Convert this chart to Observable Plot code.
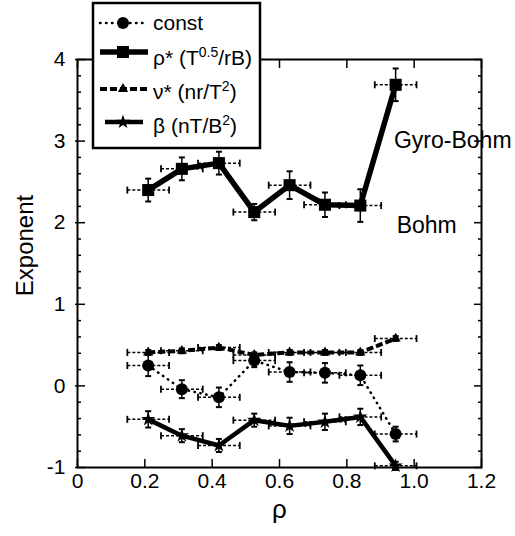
<!DOCTYPE html>
<html><head><meta charset="utf-8">
<script src="https://cdn.jsdelivr.net/npm/d3@7"></script>
<script src="https://cdn.jsdelivr.net/npm/@observablehq/plot@0.6"></script>
<style>
html,body{margin:0;padding:0;background:#fff;}
#wrap{position:relative;width:515px;height:536px;overflow:hidden;font-family:"Liberation Sans",Arial,Helvetica,sans-serif;}
#legend{position:absolute;left:0;top:0;pointer-events:none;}
</style></head><body><div id="wrap"></div>
<script>
// ---- data ----
const rho      = [0.21, 0.31, 0.42, 0.525, 0.63, 0.735, 0.84, 0.945];
const rhoErr   = [0.062, 0.062, 0.062, 0.062, 0.062, 0.062, 0.062, 0.062];
const constVal = [0.25, -0.04, -0.14, 0.31, 0.17, 0.16, 0.13, -0.59];
const constErr = [0.13, 0.11, 0.12, 0.08, 0.12, 0.12, 0.12, 0.09];
const rhoStarVal = [2.40, 2.66, 2.73, 2.13, 2.46, 2.22, 2.21, 3.69];
const rhoStarErr = [0.14, 0.14, 0.14, 0.10, 0.17, 0.15, 0.20, 0.20];
const nuVal    = [0.41, 0.43, 0.47, 0.38, 0.41, 0.41, 0.41, 0.58];
const nuErr    = [0.03, 0.03, 0.03, 0.03, 0.03, 0.03, 0.03, 0.03];
const betaVal  = [-0.41, -0.61, -0.73, -0.42, -0.49, -0.44, -0.38, -0.98];
const betaErr  = [0.10, 0.08, 0.08, 0.08, 0.10, 0.10, 0.10, 0.05];

const seriesNames = ["const", "rhoStar", "nu", "beta"];
const xTicks = [0, 0.2, 0.4, 0.6, 0.8, 1.0, 1.2];
const xTickLabels = ["0", "0.2", "0.4", "0.6", "0.8", "1.0", "1.2"];
const yTicks = [-1, 0, 1, 2, 3, 4];
const yTickLabels = ["-1", "0", "1", "2", "3", "4"];
const yMinorTicks = [-0.8,-0.6,-0.4,-0.2,0.2,0.4,0.6,0.8,1.2,1.4,1.6,1.8,2.2,2.4,2.6,2.8,3.2,3.4,3.6,3.8];
const annLabels = ["Gyro-Bohm", "Bohm"];
const annX = [0.94, 0.948];
const annY = [3.0, 1.96];

// ---- styles ----
const W = 515, H = 536, mL = 77, mR = 34, mT = 59, mB = 69;
const FONT = '"Liberation Sans", Arial, Helvetica, sans-serif';
const style = {
  const:   {symbol: "circle",   r: 6,   lw: 2.5, dash: "0.5,5.5", cap: "round"},
  rhoStar: {symbol: "square",   r: 6.8, lw: 5.5, dash: null, cap: "butt"},
  nu:      {symbol: "triangle", r: 3.8, lw: 4,   dash: "7,3", cap: "butt"},
  beta:    {symbol: "star",     r: 4.5, lw: 4.5, dash: null, cap: "butt"}
};
const seriesVals = {const: [constVal, constErr], rhoStar: [rhoStarVal, rhoStarErr], nu: [nuVal, nuErr], beta: [betaVal, betaErr]};

const rows = [];
seriesNames.forEach(name => {
  const [vals, errs] = seriesVals[name];
  vals.forEach((v, i) => rows.push({name, x: rho[i], y: v, ex: rhoErr[i], ey: errs[i]}));
});

const yPerPx = 5 / (H - mT - mB);
const xPerPx = 1.2 / (W - mL - mR);
const capY = 3.5 * yPerPx, capX = 3 * xPerPx;

const marks = [
  Plot.frame({stroke: "black", strokeWidth: 2}),
  // inward ticks
  Plot.axisX({anchor: "bottom", ticks: xTicks, tickSize: 8, dy: -8, tickFormat: () => "", label: null, strokeWidth: 1.5}),
  Plot.axisX({anchor: "top", ticks: xTicks, tickSize: 8, dy: 8, tickFormat: () => "", label: null, strokeWidth: 1.5}),
  Plot.axisY({anchor: "left", ticks: yTicks, tickSize: 10, dx: 8, tickFormat: () => "", label: null, strokeWidth: 1.5}),
  Plot.axisY({anchor: "right", ticks: yTicks, tickSize: 8, dx: -8, tickFormat: () => "", label: null, strokeWidth: 1.5}),
  Plot.axisY({anchor: "left", ticks: yMinorTicks, tickSize: 4, dx: 4, tickFormat: () => "", label: null, strokeWidth: 1.5}),
  Plot.axisY({anchor: "right", ticks: yMinorTicks, tickSize: 4, dx: -4, tickFormat: () => "", label: null, strokeWidth: 1.5}),
  // tick labels
  Plot.axisX({anchor: "bottom", ticks: xTicks, tickSize: 0, tickPadding: 6, fontSize: 21, label: null,
    tickFormat: d => xTickLabels[xTicks.findIndex(t => Math.abs(t - d) < 1e-9)]}),
  Plot.axisY({anchor: "left", ticks: yTicks, tickSize: 0, tickPadding: 12, fontSize: 21, label: null,
    tickFormat: d => yTickLabels[yTicks.indexOf(Math.round(d))]}),
  Plot.text(["Exponent"], {frameAnchor: "top-left", dx: -52, dy: 186, rotate: -90, fontSize: 24, textAnchor: "middle", lineAnchor: "middle"}),
  Plot.text(["ρ"], {frameAnchor: "bottom", dy: 50, fontSize: 26})
];

seriesNames.forEach(name => {
  const s = style[name];
  const data = rows.filter(d => d.name === name);
  // horizontal error bars (dashed thin) + caps
  marks.push(Plot.link(data, {x1: d => d.x - d.ex, x2: d => d.x + d.ex, y1: "y", y2: "y", stroke: "black", strokeWidth: 1.5, strokeDasharray: "3,2"}));
  marks.push(Plot.link(data, {x1: d => d.x - d.ex, x2: d => d.x - d.ex, y1: d => d.y - capY, y2: d => d.y + capY, stroke: "black", strokeWidth: 1.8}));
  marks.push(Plot.link(data, {x1: d => d.x + d.ex, x2: d => d.x + d.ex, y1: d => d.y - capY, y2: d => d.y + capY, stroke: "black", strokeWidth: 1.8}));
  // vertical error bars + caps
  marks.push(Plot.link(data, {x1: "x", x2: "x", y1: d => d.y - d.ey, y2: d => d.y + d.ey, stroke: "black", strokeWidth: 1.5}));
  marks.push(Plot.link(data, {x1: d => d.x - capX, x2: d => d.x + capX, y1: d => d.y - d.ey, y2: d => d.y - d.ey, stroke: "black", strokeWidth: 2}));
  marks.push(Plot.link(data, {x1: d => d.x - capX, x2: d => d.x + capX, y1: d => d.y + d.ey, y2: d => d.y + d.ey, stroke: "black", strokeWidth: 2}));
  // line
  marks.push(Plot.line(data, {x: "x", y: "y", stroke: "black", strokeWidth: s.lw, strokeDasharray: s.dash, strokeLinecap: s.cap, strokeLinejoin: "round"}));
  // markers
  marks.push(Plot.dot(data, {x: "x", y: "y", symbol: () => s.symbol, r: s.r, fill: "black", stroke: "none"}));
});

marks.push(Plot.text(annLabels.map((t, i) => ({t, x: annX[i], y: annY[i]})), {x: "x", y: "y", text: "t", textAnchor: "start", fontSize: 23}));

const chart = Plot.plot({
  width: W, height: H,
  marginLeft: mL, marginRight: mR, marginTop: mT, marginBottom: mB,
  x: {domain: [0, 1.2]},
  y: {domain: [-1, 4]},
  symbol: {type: "identity"},
  style: {fontFamily: FONT, fontSize: "20px", background: "white", color: "black", overflow: "visible"},
  marks
});
document.getElementById("wrap").appendChild(chart);

// ---- legend (overlay) ----
const legendItems = [
  {name: "const", html: "const"},
  {name: "rhoStar", html: "ρ* (T<tspan dy='-8' font-size='14'>0.5</tspan><tspan dy='8'>/rB)</tspan>"},
  {name: "nu", html: "ν* (nr/T<tspan dy='-8' font-size='14'>2</tspan><tspan dy='8'>)</tspan>"},
  {name: "beta", html: "β (nT/B<tspan dy='-8' font-size='14'>2</tspan><tspan dy='8'>)</tspan>"}
];
const legLineY = [23, 52, 89, 122];
const legTextY = [30, 65, 99, 133];
const lsvg = d3.select("#wrap").append("svg").attr("id", "legend").attr("width", W).attr("height", H);
lsvg.append("rect").attr("x", 93).attr("y", 3).attr("width", 167).attr("height", 145)
  .attr("fill", "white").attr("stroke", "black").attr("stroke-width", 2.5);
legendItems.forEach((it, i) => {
  const s = style[it.name];
  const y = legLineY[i];
  lsvg.append("line").attr("x1", it.name === "beta" ? 105 : 100).attr("x2", it.name === "beta" ? 143 : 148)
    .attr("y1", y).attr("y2", y).attr("stroke", "black").attr("stroke-width", s.lw)
    .attr("stroke-dasharray", s.dash).attr("stroke-linecap", s.cap);
  lsvg.append("path").attr("transform", `translate(123,${y})`)
    .attr("d", d3.symbol(d3["symbol" + s.symbol[0].toUpperCase() + s.symbol.slice(1)], Math.PI * s.r * s.r)())
    .attr("fill", "black");
  lsvg.append("text").attr("x", 153).attr("y", legTextY[i]).attr("font-family", FONT).attr("font-size", 21)
    .html(it.html);
});
</script>
</body></html>
